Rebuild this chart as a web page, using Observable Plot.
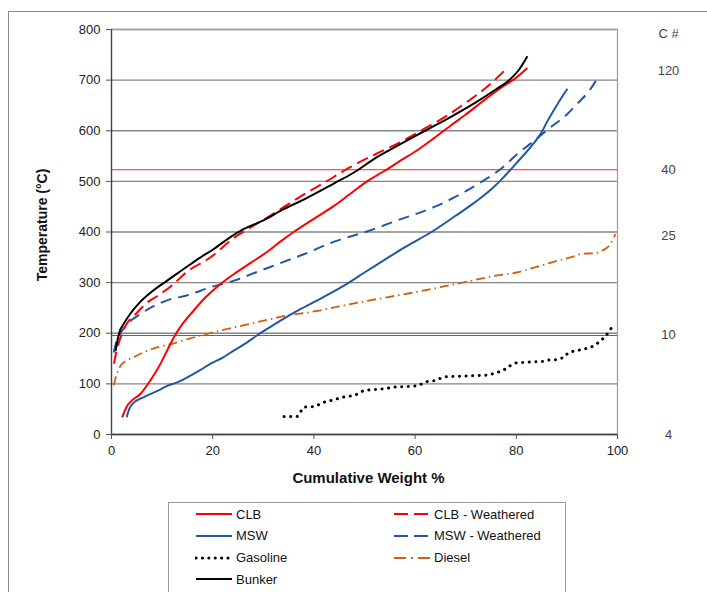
<!DOCTYPE html>
<html>
<head>
<meta charset="utf-8">
<script src="https://cdn.jsdelivr.net/npm/d3@7"></script>
<script src="https://cdn.jsdelivr.net/npm/@observablehq/plot@0.6"></script>
<style>
  html, body { margin:0; padding:0; background:#fff; }
  #wrap { position:relative; width:707px; height:592px; overflow:hidden; font-family:"Liberation Sans", Arial, sans-serif; }
  #outer { position:absolute; left:8px; top:11px; width:760px; height:640px; border:1px solid #8a8a8a; }
  #chart { position:absolute; left:0; top:0; }
  #legend { position:absolute; left:168px; top:502px; width:396px; height:120px; border:1px solid #9a9a9a; background:#fff; }
  .item { position:absolute; height:16px; display:flex; align-items:center; font-size:13px; color:#111; }
  .item svg { margin-right:3px; }
</style>
</head>
<body>
<div id="wrap">
  <div id="outer"></div>
  <div id="chart"></div>
  <div id="legend"></div>
</div>
<script>
// ---- data (cumulative weight %, temperature °C) ----
const clb = [[2.1,34],[3,55],[4,67],[5.7,80],[7.7,107],[9.7,140],[11.3,172],[12.5,195],[14,218],[16,242],[18.5,270],[21,293],[24.2,317],[27.5,339],[30.8,361],[33.5,382],[36,400],[40,426],[43.9,451],[47,474],[50.5,500],[54,521],[57.1,541],[60.5,562],[63.7,585],[67,610],[70,632],[73.6,660],[77,685],[80,705],[82.2,724]];
const clbWeathered = [[0.5,140],[1,165],[1.8,192],[2.8,215],[5,240],[7,260],[9,273],[12,295],[15,322],[19.6,350],[24,387],[28,412],[31,430],[37,468],[42,497],[47,527],[52,553],[57,577],[62,605],[66,628],[70,655],[74,685],[78.3,725]];
const msw = [[3,34],[3.5,50],[4.1,60],[6.4,74],[9.3,87],[11,96],[13,103],[15,113],[17.5,127],[19.6,140],[22,152],[24.2,166],[26.5,180],[28.8,196],[31,210],[33.4,225],[37.4,248],[42,272],[46.6,298],[50,320],[53.8,344],[58,370],[63.7,403],[68,432],[71.6,457],[75,484],[77,503],[80.2,538],[83.5,576],[85,597],[86.1,618],[88.1,652],[90.1,683]];
const mswWeathered = [[0.45,162],[1,185],[2.1,205],[3.5,222],[5.7,238],[8,252],[11,265],[15,275],[19.6,291],[24.2,304],[29,322],[34,341],[38,356],[44,381],[50.5,401],[56.5,423],[63.7,449],[69,475],[73.6,502],[77,525],[80.2,554],[83.5,580],[86.8,607],[90,632],[92,653],[94.5,680],[96,703]];
const gasoline = [[34.1,35.5],[36.7,35.5],[38,54],[39.7,55],[41,59],[42.1,64],[43.3,67],[44.6,70.5],[45.9,74],[47.3,76],[48.4,79],[49.6,85.6],[50.9,88],[53.5,90],[56.2,94],[58.8,95],[60.1,96],[61.4,100],[62.4,104.7],[63.7,106],[65,111],[66.3,114.5],[69,115],[71.6,116],[74.2,117],[75.4,120],[76.7,124],[78,130],[78.8,136],[80,141.5],[82.6,143],[85.3,144.5],[86.6,147.5],[87.9,147.5],[89.2,151.5],[90.2,160.6],[91.3,164.6],[92.6,167],[93.9,170],[95.1,174],[96.3,182],[97.1,189],[98,199],[98.7,209],[99.3,220]];
const diesel = [[0.45,97],[1,118],[1.8,136],[3,146],[4.4,153],[6.5,163],[9,172],[11.5,178],[14.3,186],[17,194],[20.2,202],[24,211],[27.5,219],[31,227],[34.7,235],[40,243],[45,253],[50,263],[55,272],[60,281],[65,291],[70.3,302],[75,312],[80,320],[83,328],[87,340],[91.4,352],[93,357],[95.3,358],[97,363],[98.5,375],[99.6,396]];
const bunker = [[0.8,165],[1.5,200],[2.5,220],[3.75,239],[5.5,260],[7.7,280],[11,304],[14,325],[17.6,350],[20,365],[23.5,390],[26,405],[30,423],[34,445],[38,464],[44,496],[48,518],[52,545],[57,573],[62,600],[67,627],[72,656],[76,682],[78.7,701],[80.5,720],[82.2,747]];

const xTicks = [0,20,40,60,80,100];
const yTicks = [0,100,200,300,400,500,600,700,800];
const refTemps = [195.5,523];
const carbonTemps = [792,719,523,393,197,0];
const carbonLabels = ["C #","120","40","25","10","4"];

const seriesNames = ["CLB","CLB - Weathered","MSW","MSW - Weathered","Gasoline","Diesel","Bunker"];
const seriesData = [clb, clbWeathered, msw, mswWeathered, gasoline, diesel, bunker];

const RED = "#ff0000", BLUE = "#2257a5", ORANGE = "#d0600e", BLACK = "#000";
const styles = {
  "CLB": {stroke:RED, strokeWidth:2, dash:null},
  "CLB - Weathered": {stroke:RED, strokeWidth:2, dash:"12,6"},
  "MSW": {stroke:BLUE, strokeWidth:2, dash:null},
  "MSW - Weathered": {stroke:BLUE, strokeWidth:2, dash:"11,7"},
  "Gasoline": {stroke:BLACK, strokeWidth:3, dash:"0.1,6.5", cap:"round", curve:"linear"},
  "Diesel": {stroke:ORANGE, strokeWidth:1.8, dash:"9,4,1.5,4"},
  "Bunker": {stroke:BLACK, strokeWidth:2, dash:null}
};

const table = seriesNames.flatMap((name, k) => seriesData[k].map(([x, y]) => ({series:name, x, y})));
const carbonRows = carbonTemps.map((t, i) => ({t, label:carbonLabels[i]}));

const drawOrder = ["Diesel","Gasoline","MSW","MSW - Weathered","CLB","CLB - Weathered","Bunker"];
const lineMarks = drawOrder.map(name => {
  const s = styles[name];
  return Plot.line(table.filter(d => d.series === name), {
    x:"x", y:"y", stroke:s.stroke, strokeWidth:s.strokeWidth,
    strokeDasharray:s.dash || undefined, strokeLinecap:s.cap || "butt",
    curve:s.curve || "monotone-x"
  });
});

const chart = Plot.plot({
  width:707, height:500,
  marginTop:29, marginBottom:66, marginLeft:111, marginRight:90,
  style:{fontFamily:"'Liberation Sans', Arial, sans-serif", fontSize:"13px", color:"#222", background:"transparent", overflow:"visible"},
  x:{domain:[0,100]},
  y:{domain:[0,800]},
  marks:[
    Plot.gridY(yTicks, {stroke:"#858585", strokeOpacity:1, strokeWidth:1.3}),
    Plot.frame({stroke:"#a0a0a0", strokeWidth:1.3}),
    Plot.ruleY(refTemps, {stroke:"#ff2020", strokeWidth:1}),
    Plot.axisY(yTicks, {tickSize:5, tickPadding:6, label:null, stroke:"#555", fill:"#222"}),
    Plot.axisX(xTicks, {tickSize:5, tickPadding:6, label:null, stroke:"#555", fill:"#222"}),
    Plot.ruleX([0], {stroke:"#444", strokeWidth:1.3}),
    Plot.ruleY([0], {stroke:"#444", strokeWidth:1.3}),
    ...lineMarks,
    Plot.text(carbonRows, {y:"t", text:"label", frameAnchor:"right", dx:51, textAnchor:"middle", fill:"#444", fontSize:13}),
    Plot.text(["Cumulative Weight %"], {frameAnchor:"bottom", dy:48, dx:4, fontWeight:"bold", fontSize:15, fill:"#111"}),
    Plot.text(["Temperature (°C)"], {frameAnchor:"left", dx:-69, dy:-7, rotate:-90, textAnchor:"middle", fontWeight:"bold", fontSize:14, fill:"#111"})
  ]
});
document.getElementById("chart").appendChild(chart);

// ---- legend ----
const legendLayout = [
  ["CLB", 0, 0], ["CLB - Weathered", 1, 0],
  ["MSW", 0, 1], ["MSW - Weathered", 1, 1],
  ["Gasoline", 0, 2], ["Diesel", 1, 2],
  ["Bunker", 0, 3]
];
const legend = document.getElementById("legend");
legendLayout.forEach(([name, col, row]) => {
  const s = styles[name];
  const div = document.createElement("div");
  div.className = "item";
  div.style.left = (col === 0 ? 26 : 224) + "px";
  div.style.top = (3 + row * 21.8) + "px";
  const legendDash = name === "CLB - Weathered" || name === "MSW - Weathered" ? "14,6" :
                     name === "Diesel" ? "12,5,2,5" : name === "Gasoline" ? "0.1,6.3" : null;
  div.innerHTML = `<svg width="38" height="6"><line x1="1" x2="37" y1="3" y2="3" stroke="${s.stroke}" stroke-width="${name==="Gasoline"?3:2}" ${legendDash?`stroke-dasharray="${legendDash}"`:""} ${name==="Gasoline"?'stroke-linecap="round"':""}/></svg><span>${name}</span>`;
  legend.appendChild(div);
});
</script>
</body>
</html>
